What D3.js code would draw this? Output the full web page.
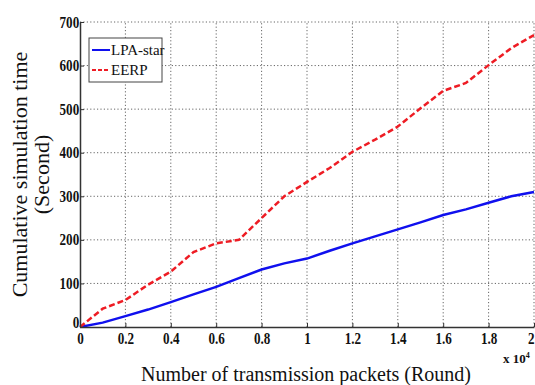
<!DOCTYPE html>
<html><head><meta charset="utf-8">
<script src="https://cdn.jsdelivr.net/npm/d3@7"></script>
<style>body{margin:0;background:#fff}</style>
</head><body>
<script>
const xValues = [0,0.1,0.2,0.3,0.4,0.5,0.6,0.7,0.8,0.9,1.0,1.1,1.2,1.3,1.4,1.5,1.6,1.7,1.8,1.9,2.0];
const lpaStar = [0,10,25,40,57,75,92,112,132,146,157,175,192,208,224,240,257,270,285,300,310];
const eerp    = [0,42,62,97,127,172,192,200,250,300,333,365,402,430,460,502,542,560,601,640,670];
const xTicks = [0,0.2,0.4,0.6,0.8,1,1.2,1.4,1.6,1.8,2];
const yTicks = [0,100,200,300,400,500,600,700];
const seriesNames = ["LPA-star","EERP"];

const W=535,H=385;
const m={l:80,r:1,t:22,b:58};
const svg=d3.select("body").append("svg").attr("width",W).attr("height",H);
const x=d3.scaleLinear().domain([0,2]).range([m.l,W-m.r]);
const y=d3.scaleLinear().domain([0,700]).range([H-m.b,m.t]);

const g=svg.append("g");
g.selectAll(".gx").data(xTicks.slice(1)).join("line")
 .attr("x1",d=>x(d)).attr("x2",d=>x(d)).attr("y1",y(0)).attr("y2",y(700))
 .attr("stroke","#666").attr("stroke-width",1).attr("stroke-dasharray","1.2,2.2");
g.selectAll(".gy").data(yTicks.slice(1)).join("line")
 .attr("x1",x(0)).attr("x2",x(2)).attr("y1",d=>y(d)).attr("y2",d=>y(d))
 .attr("stroke","#666").attr("stroke-width",1).attr("stroke-dasharray","1.2,2.2");

const line=d3.line().x((d,i)=>x(xValues[i])).y(d=>y(d));
svg.append("path").datum(lpaStar).attr("d",line).attr("fill","none")
 .attr("stroke","#1010ee").attr("stroke-width",2.5);
svg.append("path").datum(eerp).attr("d",line).attr("fill","none")
 .attr("stroke","#ee1c24").attr("stroke-width",2.5).attr("stroke-dasharray","6,3");

const fmt=d=>d===0?"0":String(d);
const xa=svg.append("g").attr("transform",`translate(0,${y(0)})`)
 .call(d3.axisBottom(x).tickValues(xTicks).tickFormat(fmt).tickSize(-4).tickSizeOuter(0).tickPadding(4));
const ya=svg.append("g").attr("transform",`translate(${x(0)},0)`)
 .call(d3.axisLeft(y).tickValues(yTicks).tickSize(-4).tickSizeOuter(0).tickPadding(1));
[xa,ya].forEach(a=>{
 a.selectAll("path").attr("stroke","#333").attr("stroke-width",1.5);
 a.selectAll("line").attr("stroke","#333");
 a.selectAll("text").attr("font-family","Liberation Serif").attr("font-weight","bold")
  .attr("font-size",16).attr("fill","#111").attr("transform","scale(0.82,1)");
});
xa.selectAll("text").attr("dy","0.8em");
xa.selectAll(".tick").filter(d=>d===2).select("text").attr("text-anchor","end").attr("x",0);
ya.selectAll(".tick").filter(d=>d===0).select("text").attr("dy","0.05em");

const ex=svg.append("text").attr("x",503).attr("y",363).attr("font-family","Liberation Serif")
 .attr("font-weight","bold").attr("font-size",13).attr("fill","#111");
ex.append("tspan").text("x 10");
ex.append("tspan").attr("dy",-5).attr("font-size",8).text("4");

svg.append("text").attr("x",306).attr("y",381).attr("text-anchor","middle")
 .attr("font-family","Liberation Serif").attr("font-size",20).attr("fill","#111")
 .text("Number of transmission packets (Round)");
const yl=svg.append("text").attr("transform",`translate(27,${(y(0)+y(700))/2}) rotate(-90)`)
 .attr("text-anchor","middle").attr("font-family","Liberation Serif").attr("font-size",22).attr("fill","#111");
yl.append("tspan").attr("x",0).attr("dy",0).text("Cumulative simulation time");
yl.append("tspan").attr("x",0).attr("dy",22).text("(Second)");

const lg=svg.append("g");
lg.append("rect").attr("x",89).attr("y",38).attr("width",73).attr("height",44)
 .attr("fill","#fff").attr("stroke","#444").attr("stroke-width",1);
const cols=["#1010ee","#ee1c24"],dash=[null,"4,2"];
seriesNames.forEach((n,i)=>{
 const yy=50+i*20;
 lg.append("line").attr("x1",92).attr("x2",110).attr("y1",yy).attr("y2",yy)
  .attr("stroke",cols[i]).attr("stroke-width",2).attr("stroke-dasharray",dash[i]);
 lg.append("text").attr("x",111).attr("y",yy+5).attr("font-family","Liberation Serif")
  .attr("font-size",15).attr("fill","#111").text(n);
});
</script>
</body></html>
